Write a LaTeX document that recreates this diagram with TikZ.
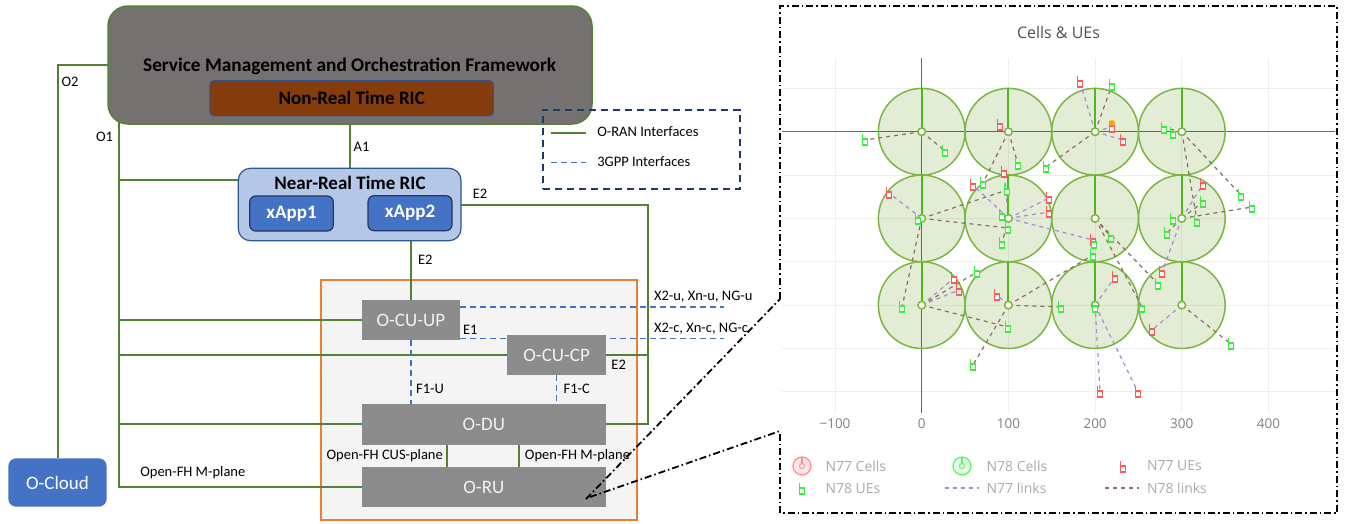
\documentclass[tikz,border=0pt]{standalone}
\usepackage{fontspec}
\setmainfont{Carlito}
\newfontfamily\plotfont{Open Sans}
\usetikzlibrary{calc}
\pgfdeclarelayer{back}
\pgfdeclarelayer{mid}
\pgfsetlayers{back,mid,main}
\definecolor{ogreen}{HTML}{548235}
\definecolor{smogray}{HTML}{767171}
\definecolor{nrtbrown}{HTML}{843C0C}
\definecolor{borderblue}{HTML}{2F5597}
\definecolor{ricfill}{HTML}{B4C7E7}
\definecolor{appblue}{HTML}{4472C4}
\definecolor{appborder}{HTML}{203864}
\definecolor{unitgray}{HTML}{8C8C8C}
\definecolor{unittext}{HTML}{F2F2F2}
\definecolor{orangeb}{HTML}{ED7D31}
\definecolor{boxfill}{HTML}{F4F4F4}
\definecolor{gppblue}{HTML}{4472C4}
\definecolor{navy}{HTML}{1F3864}
\definecolor{cellbase}{RGB}{115,160,45}
\definecolor{cellline}{RGB}{124,182,66}
\definecolor{cellstem}{RGB}{76,187,23}
\definecolor{uered}{HTML}{FF5A5A}
\definecolor{uegreen}{HTML}{3BEE3B}
\definecolor{nlinkp}{HTML}{A58BD9}
\definecolor{nlinkb}{HTML}{8D6E63}
\definecolor{gridc}{HTML}{EEEEEE}
\definecolor{axisc}{HTML}{666666}
\definecolor{tickc}{HTML}{808080}
\definecolor{legc}{HTML}{AAAAAA}
\definecolor{titlec}{HTML}{4A4F5A}
\definecolor{seldot}{HTML}{FFA500}
\tikzset{
  every node/.style={inner sep=0pt, outer sep=0pt},
  smobox/.style={fill=smogray, draw=ogreen, line width=1.5pt, rounded corners=20pt},
  nrtbox/.style={fill=nrtbrown, draw=borderblue, line width=1pt, rounded corners=4pt, font=\fontsize{19}{22}\selectfont\bfseries},
  ricbox/.style={fill=ricfill, draw=borderblue, line width=1.2pt, rounded corners=12pt},
  appbox/.style={fill=appblue, draw=appborder, line width=1.2pt, rounded corners=6pt, text=white, font=\fontsize{19}{22}\selectfont\bfseries},
  ranunit/.style={fill=unitgray, text=unittext, font=\fontsize{19}{22}\selectfont},
  cloudbox/.style={fill=appblue, rounded corners=8pt, text=white, font=\fontsize{19}{22}\selectfont},
  orangebox/.style={fill=boxfill, draw=orangeb, line width=2pt},
  legbox/.style={draw=navy, line width=2pt, dash pattern=on 7pt off 5pt},
  lbl/.style={font=\fontsize{14.5}{17}\selectfont},
  oran/.style={draw=ogreen, line width=2pt},
  gpp/.style={draw=gppblue, line width=1.6pt, dash pattern=on 6pt off 4pt},
  dashdotl/.style={draw=black, line width=1.8pt, dash pattern=on 7pt off 3pt on 1.5pt off 3pt},
  gridl/.style={draw=gridc, line width=1pt},
  axisl/.style={draw=axisc, line width=1pt},
  nsevseven/.style={draw=nlinkp, line width=1.2pt, dash pattern=on 4pt off 4pt},
  nseveight/.style={draw=nlinkb, line width=1.2pt, dash pattern=on 4pt off 4pt},
  uer/.pic={\draw[uered, line width=1.1pt, fill=white] (-2.5,-1) rectangle (2.5,5); \draw[uered, line width=1.1pt] (-2.5,-1) -- (-2.5,-6);},
  ueg/.pic={\draw[uegreen, line width=1.1pt, fill=white] (-2.5,-1) rectangle (2.5,5); \draw[uegreen, line width=1.1pt] (-2.5,-1) -- (-2.5,-6);},
}
\begin{document}
\begin{tikzpicture}[x=1pt,y=-1pt]
\useasboundingbox (0,0) rectangle (1347,523);
% ---------------- left diagram ----------------
\begin{pgfonlayer}{back}
\node[orangebox, minimum width=316pt, minimum height=240pt] (ranbox) at (478.7,400) {};
\end{pgfonlayer}
\node[smobox, minimum width=484pt, minimum height=118pt] (smo) at (350,65) {};
\node[font=\fontsize{19.3}{22}\selectfont\bfseries] (smotext) at (349.7,66.5) {Service Management and Orchestration Framework};
\node[nrtbox, minimum width=283.5pt, minimum height=35.3pt] (nrt) at (351.7,98.3) {Non-Real Time RIC};
\node[ricbox, minimum width=222.7pt, minimum height=72.4pt] (ric) at (349.65,204.5) {};
\node[font=\fontsize{19}{22}\selectfont\bfseries] (rictext) at (350,182.7) {Near-Real Time RIC};
\node[appbox, minimum width=83.6pt, minimum height=35pt] (xapp1) at (291.5,213.5) {xApp1};
\node[appbox, minimum width=84pt, minimum height=35pt] (xapp2) at (410,213.2) {xApp2};
\node[ranunit, minimum width=98.3pt, minimum height=40pt] (cuup) at (410.85,320) {O-CU-UP};
\node[ranunit, minimum width=98.7pt, minimum height=39.4pt] (cucp) at (556.65,355) {O-CU-CP};
\node[ranunit, minimum width=244.3pt, minimum height=40.7pt] (odu) at (483.85,424.35) {O-DU};
\node[ranunit, minimum width=244.3pt, minimum height=40pt] (oru) at (483.85,487.3) {O-RU};
\node[cloudbox, minimum width=98.4pt, minimum height=48.4pt] (ocloud) at (57.5,482.5) {O-Cloud};
% legend box
\node[legbox, minimum width=197.3pt, minimum height=79pt] (legbox) at (641.35,149.5) {};
\coordinate (lg1a) at (550.7,133.3); \coordinate (lg1b) at (586,133.3);
\coordinate (lg2a) at (550.7,162.3); \coordinate (lg2b) at (586,162.3);
\draw[oran] (lg1a) -- (lg1b);
\draw[gpp] (lg2a) -- (lg2b);
\node[lbl, anchor=west] (legt1) at (597.3,132) {O-RAN Interfaces};
\node[lbl, anchor=west] (legt2) at (597.3,162) {3GPP Interfaces};
% connectors
\begin{pgfonlayer}{mid}
\draw[oran] (smo.west) -| (ocloud.north);
\coordinate (o1top) at (119,110);
\draw[oran] (o1top) |- (oru.west);
\draw[oran] (o1top |- 0,180) -- (ric.west |- 0,180);
\draw[oran] (o1top |- cuup.west) -- (cuup.west);
\draw[oran] (o1top |- cucp.west) -- (cucp.west);
\draw[oran] (o1top |- odu.west) -- (odu.west);
\draw[oran] (ric.north) -- (ric.north |- smo.south);
\draw[oran] (ric.south -| cuup.north) -- (cuup.north);
\coordinate (e2r) at (648.3,204.5);
\draw[oran] (ric.east) -- (e2r) |- (odu.east);
\draw[oran] (cucp.east) -- (cucp.east -| e2r);
\coordinate (fh1) at (446.7,455);
\coordinate (fh2) at (519,455);
\draw[oran] (odu.south -| fh1) -- (oru.north -| fh1);
\draw[oran] (odu.south -| fh2) -- (oru.north -| fh2);
\coordinate (x2u) at (724,306.7);
\coordinate (x2c) at (724,338.3);
\draw[gpp] (cuup.east |- x2u) -- (x2u);
\draw[gpp] (cuup.east |- x2c) -- (x2c);
\draw[gpp] (cuup.south) -- (cuup.south |- odu.north);
\draw[gpp] (cucp.south) -- (cucp.south |- odu.north);
\end{pgfonlayer}
% labels
\node[lbl] (lo2) at (70,82) {O2};
\node[lbl] (lo1) at (104.5,136.7) {O1};
\node[lbl] (la1) at (361.5,146.5) {A1};
\node[lbl] (le2a) at (480,193.3) {E2};
\node[lbl] (le2b) at (425.3,260) {E2};
\node[lbl] (le1) at (470.3,330) {E1};
\node[lbl] (le2c) at (618.7,365) {E2};
\node[lbl] (lf1u) at (430,389) {F1-U};
\node[lbl] (lf1c) at (576.7,389) {F1-C};
\node[lbl] (lcus) at (384.7,456) {Open-FH CUS-plane};
\node[lbl] (lmr) at (577.5,456) {Open-FH M-plane};
\node[lbl] (lml) at (192.8,473) {Open-FH M-plane};
\node[lbl, anchor=west] (lx2u) at (654,296.7) {X2-u, Xn-u, NG-u};
\node[lbl, anchor=west] (lx2c) at (654,328.3) {X2-c, Xn-c, NG-c};
% zoom callout
\coordinate (zsrc1) at (586,499);
\coordinate (zsrc2) at (590,497);
\coordinate (ztop) at (780,299);
\coordinate (zbot) at (780,431);
\draw[dashdotl] (zsrc1) -- (ztop);
\draw[dashdotl] (zsrc2) -- (zbot);
\draw[dashdotl] (ztop) -- (780,6) -- (1337,6) -- (1337,513) -- (780,513) -- (zbot);
% ---------------- plot ----------------
\foreach \i in {0,1,2,3} {\foreach \j in {0,1,2} {\coordinate (c\i\j) at ({921.7+86.7*\i},{131.7+86.7*\j});}}
\foreach \x in {835,921.7,1008.4,1095.1,1181.8,1268.5} {\draw[gridl] (\x,58) -- (\x,413);}
\foreach \y in {88.35,175.05,218.4,261.75,305.1,348.45,391.8} {\draw[gridl] (782,\y) -- (1335,\y);}
\foreach \i in {0,1,2,3} {\foreach \j in {0,1,2} {\fill[cellbase, fill opacity=0.2] (c\i\j) circle (43.35);}}
\draw[axisl] (782,131.7) -- (1335,131.7);
\draw[axisl] (921.7,58) -- (921.7,413);
\foreach \i in {0,1,2,3} {\foreach \j in {0,1,2} {\draw[cellline, line width=1.5pt] (c\i\j) circle (43.35);}}
% links
\foreach \s/\x/\y [count=\n] in {c10/1000/125, c20/1080/82, c20/1112/127, c20/1123/140, c11/1004/172, c11/973/185, c01/889/193, c11/1049/198, c11/1049/212, c11/1093/240, c31/1203/184, c02/954/278, c02/959/290, c12/997/295, c22/1115/277, c31/1162/272, c32/1152/330, c22/1100/392, c22/1138/392}
  {\coordinate (ur\n) at (\x,\y); \draw[nsevseven] (\s) -- (ur\n);}
\foreach \s/\x/\y [count=\n] in {c00/865/140, c00/945/151, c10/1018/164, c10/983/183, c20/1046/167, c20/1112/85, c30/1164/128, c30/1173/133, c30/1241/195, c31/1203/202, c01/918/219, c01/1007/190, c11/1002/215, c01/1008/228, c11/1002/243, c22/1094/243, c21/1111/237, c12/1093/255, c21/1158/284, c21/1142/307, c31/1173/219, c30/1197/221, c31/1252/207, c31/1167/233, c02/977/272, c01/902/307, c02/1008/327, c12/973/365, c12/1061/307, c22/1095/307, c32/1231/344}
  {\coordinate (ug\n) at (\x,\y); \draw[nseveight] (\s) -- (ug\n);}
\foreach \i in {0,1,2,3} {\foreach \j in {0,1,2} {
  \draw[cellstem, line width=2pt] (c\i\j) -- ++(0,-43.35);
  \draw[cellline, line width=1.5pt, fill=white] (c\i\j) circle (3.8);}}
\foreach \n in {1,...,19} {\pic at (ur\n) {uer};}
\foreach \n in {1,...,31} {\pic at (ug\n) {ueg};}
\fill[seldot] (1112,123) circle (3);
% plot texts
\node[font=\plotfont\fontsize{16}{19}\selectfont, text=titlec] (ptitle) at (1058.5,32) {Cells \& UEs};
\foreach \x/\t in {835/−100, 921.7/0, 1008.4/100, 1095.1/200, 1181.8/300, 1268.5/400}
  {\node[font=\plotfont\fontsize{13.5}{16}\selectfont, text=tickc] at (\x,424) {\t};}
% plot legend
\coordinate (lc1) at (802,466); \coordinate (lc2) at (962,466);
\fill[uered, fill opacity=0.15] (lc1) circle (9); \draw[uered!70, line width=1.2pt] (lc1) circle (9);
\draw[uered!70, line width=1.2pt] (lc1) -- ++(0,-9); \draw[uered!70, line width=1pt, fill=white] (lc1) circle (2.5);
\fill[uegreen, fill opacity=0.15] (lc2) circle (9); \draw[uegreen!80, line width=1.2pt] (lc2) circle (9);
\draw[uegreen!80, line width=1.2pt] (lc2) -- ++(0,-9); \draw[uegreen!80, line width=1pt, fill=white] (lc2) circle (2.5);
\pic at (1123,467) {uer};
\pic at (802,489) {ueg};
\draw[nsevseven] (944.7,488) -- (978.5,488);
\draw[nseveight] (1105,488) -- (1139,488);
\tikzset{legt/.style={font=\plotfont\fontsize{14}{16}\selectfont, text=legc, anchor=west}}
\node[legt] (pl1) at (825.5,466) {N77 Cells};
\node[legt] (pl2) at (986.6,466) {N78 Cells};
\node[legt] (pl3) at (1147,466) {N77 UEs};
\node[legt] (pl4) at (825.5,488) {N78 UEs};
\node[legt] (pl5) at (986.6,488) {N77 links};
\node[legt] (pl6) at (1147,488) {N78 links};
\end{tikzpicture}
\end{document}
